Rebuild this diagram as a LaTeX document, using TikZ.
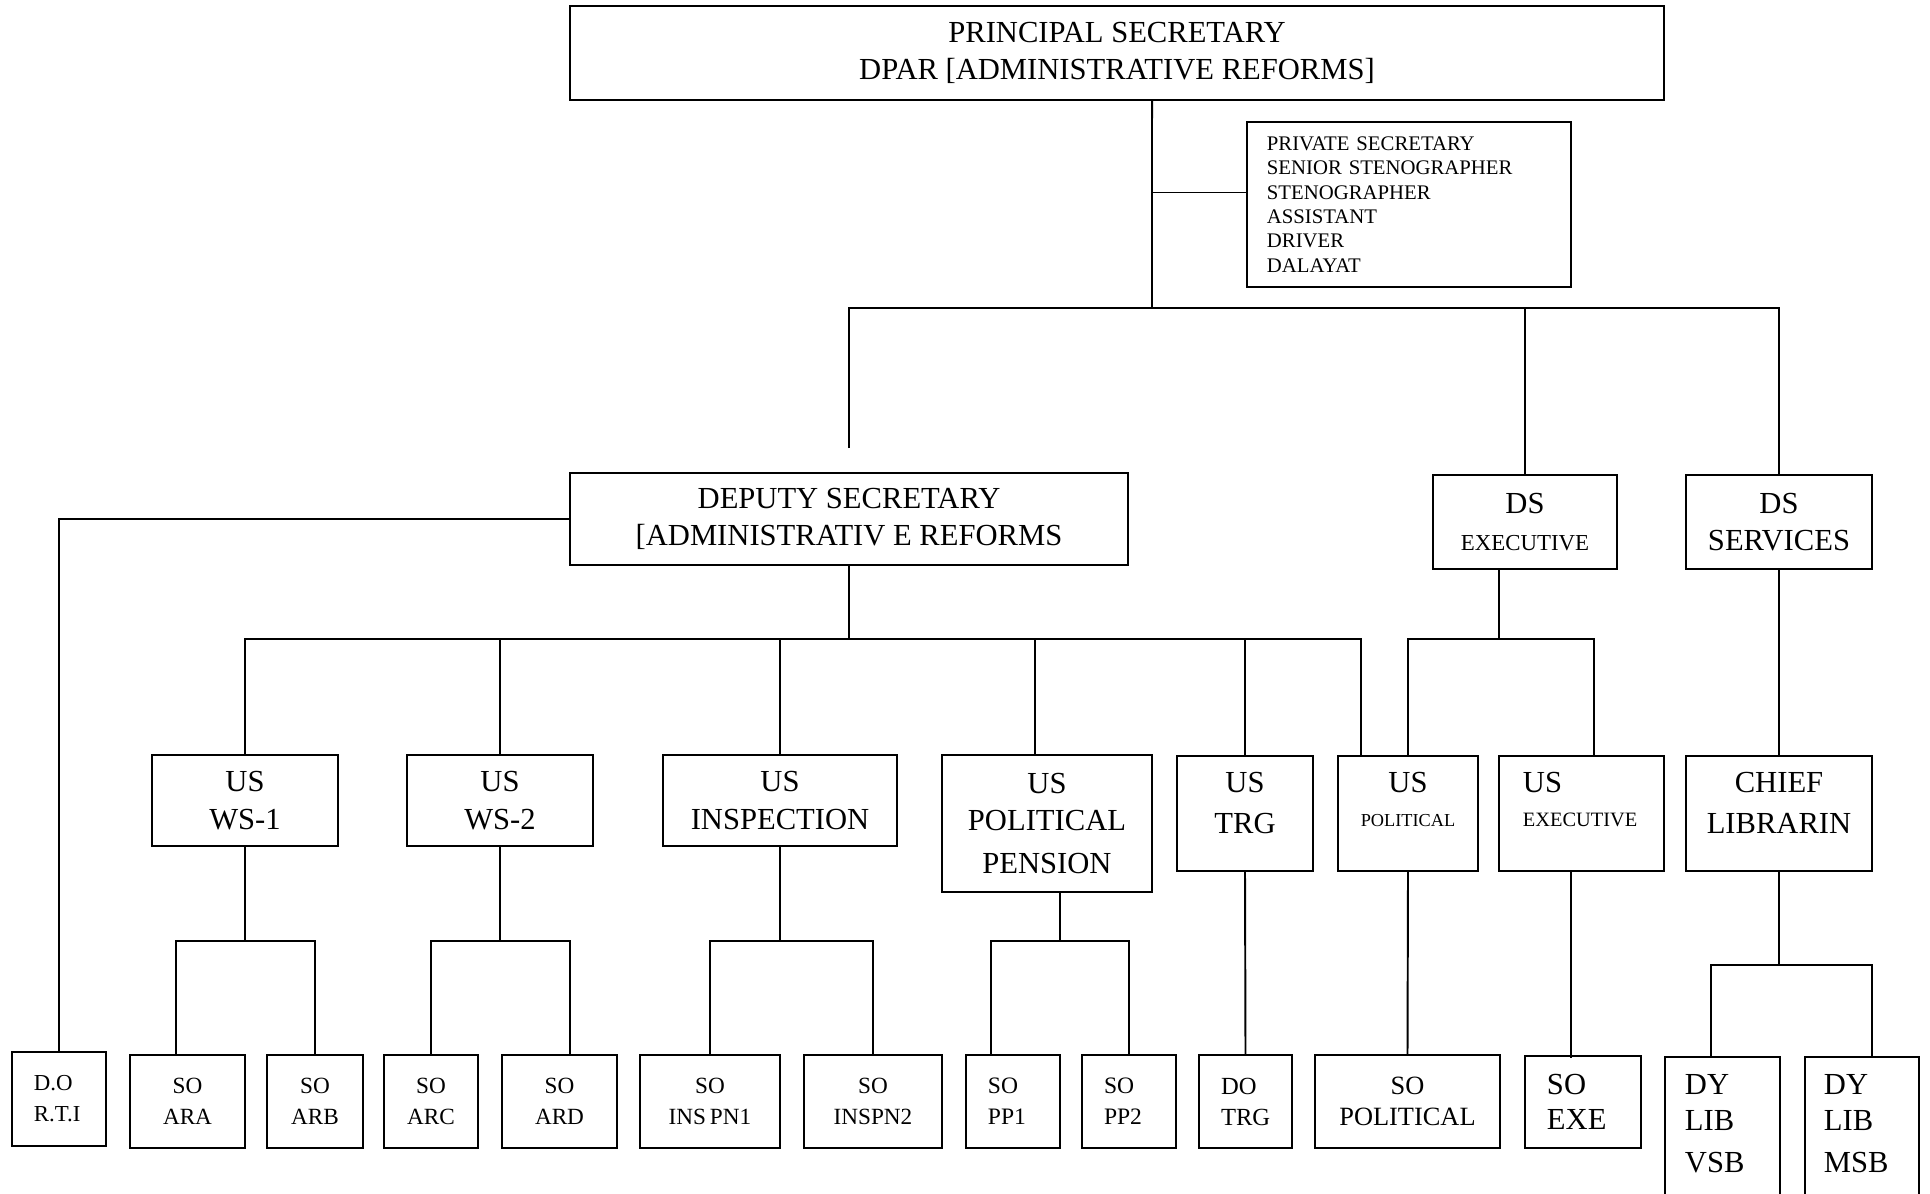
\documentclass[tikz,border=0pt]{standalone}
\usepackage{fontspec}
\setmainfont{Liberation Serif}

\begin{document}
\begin{tikzpicture}[x=0.01cm,y=-0.01cm,line width=0.55pt,
    post/.style={draw,inner sep=0pt,align=center,font=\fontsize{8.7}{10.6}\selectfont},
    tallpost/.style={post,text width=#1,text height=0.37cm,text depth=0.78cm},
    sopost/.style={draw,inner sep=0pt,align=center,minimum width=#1,minimum height=0.93cm,font=\fontsize{6.6}{8.8}\selectfont},
    leftpost/.style={draw,inner ysep=0pt,inner xsep=0.22cm,align=left,minimum height=0.93cm,font=\fontsize{6.7}{8.8}\selectfont},
    libpost/.style={draw,anchor=north,inner ysep=0pt,align=left,text height=0.38cm,text depth=1.4cm,font=\fontsize{8.7}{10}\selectfont}
  ]
  \path[use as bounding box,clip] (0,0) rectangle (1930,1194);

  % top
  \node[post,minimum width=10.94cm,minimum height=0.94cm] (ps) at (1117,53) {PRINCIPAL SECRETARY\\DPAR [ADMINISTRATIVE REFORMS]};
  \node[draw,inner xsep=0.2cm,inner ysep=0pt,text width=2.84cm,minimum height=1.65cm,align=left,font=\fontsize{5.9}{6.9}\selectfont] (staff) at (1409,204.5) {PRIVATE SECRETARY\\SENIOR STENOGRAPHER\\STENOGRAPHER\\ASSISTANT\\DRIVER\\DALAYAT};

  % deputy secretaries
  \node[post,minimum width=5.58cm,minimum height=0.92cm] (dsar) at (849,519) {DEPUTY SECRETARY\\{[}ADMINISTRATIV E REFORMS};
  \node[post,minimum width=1.84cm,minimum height=0.94cm] (dsexe) at (1525,522) {DS\\{\fontsize{6.5}{8}\selectfont EXECUTIVE}};
  \node[post,minimum width=1.86cm,minimum height=0.94cm] (dsser) at (1779,522) {DS\\SERVICES};

  % under secretaries
  \node[post,minimum width=1.86cm,minimum height=0.91cm] (ws1) at (245,800.5) {US\\WS-1};
  \node[post,minimum width=1.86cm,minimum height=0.91cm] (ws2) at (500,800.5) {US\\WS-2};
  \node[post,minimum width=2.34cm,minimum height=0.91cm] (insp) at (780,800.5) {US\\INSPECTION};
  \node[post,minimum width=2.10cm,minimum height=1.37cm] (polpen) at (1047,823.5) {US\\POLITICAL\\[0.6mm]PENSION};
  \node[tallpost=1.36cm,anchor=north] (trg) at (1245,755) {US\\[0.3mm]TRG};
  \node[tallpost=1.40cm,anchor=north] (uspol) at (1408,755) {US\\[-0.4mm]{\fontsize{5.2}{6}\selectfont POLITICAL}};
  \node[tallpost=1.17cm,anchor=north,align=left,inner xsep=0.24cm] (usexe) at (1581.5,755) {US\\[-0.4mm]{\fontsize{5.8}{7}\selectfont EXECUTIVE}};
  \node[tallpost=1.86cm,anchor=north] (chief) at (1779,755) {CHIEF\\[0.3mm]LIBRARIN};

  % section officers
  \node[leftpost,text width=0.50cm,minimum height=0.94cm,font=\fontsize{6.5}{8.8}\selectfont] (dorti) at (59,1099) {D.O\\R.T.I};
  \node[sopost=1.15cm] (ara) at (187.5,1101.5) {SO\\ARA};
  \node[sopost=0.96cm] (arb) at (315,1101.5) {SO\\ARB};
  \node[sopost=0.94cm] (arc) at (431,1101.5) {SO\\ARC};
  \node[sopost=1.15cm] (ard) at (559.5,1101.5) {SO\\ARD};
  \node[sopost=1.40cm] (inspn1) at (710,1101.5) {SO\\INS\,PN1};
  \node[sopost=1.38cm] (inspn2) at (873,1101.5) {SO\\INSPN2};
  \node[leftpost,text width=0.50cm] (pp1) at (1013,1101.5) {SO\\PP1};
  \node[leftpost,text width=0.50cm] (pp2) at (1129,1101.5) {SO\\PP2};
  \node[leftpost,text width=0.49cm,font=\fontsize{7}{8.8}\selectfont] (dotrg) at (1245.5,1101.5) {DO\\TRG};
  \node[sopost=1.85cm,font=\fontsize{7.5}{8.8}\selectfont] (sopol) at (1407.5,1101.5) {SO\\POLITICAL};
  \node[leftpost,text width=0.72cm,minimum height=0.92cm,font=\fontsize{8.7}{10}\selectfont] (soexe) at (1583,1102) {SO\\EXE};
  \node[libpost,inner xsep=0.20cm,text width=0.75cm] (vsb) at (1722.5,1056) {DY\\LIB\\[0.7mm]VSB};
  \node[libpost,inner xsep=0.19cm,text width=0.76cm] (msb) at (1862,1056) {DY\\LIB\\[0.7mm]MSB};

  % links
  \coordinate (top) at (1152,308);
  \coordinate (gap) at (849,448);
  \coordinate (mid) at (849,639);
  \coordinate (exe) at (1499,639);

  \draw ([xshift=3.5mm]ps.south) -- (top);
  \draw ([yshift=1.2mm]staff.west) -- ++(-95,0);
  \draw (gap) |- (top) -| (dsser.north);
  \draw (dsexe.north) -- (dsexe.north |- top);
  \draw (dsar.west) -| (dorti.north);
  \draw (dsar.south) -- (mid);
  \draw (ws1.north) |- (mid) -| ([xshift=-4.7mm]uspol.north);
  \foreach \n in {ws2,insp,trg}
    \draw (\n.north) -- (\n.north |- mid);
  \draw ([xshift=-1.2mm]polpen.north) -- ++(0,-116);
  \draw ([xshift=-2.6mm]dsexe.south) -- (exe);
  \draw (uspol.north) |- (exe) -| ([xshift=1.25mm]usexe.north);
  \draw (dsser.south) -- (chief.north);

  \draw (ws1.south) -- ++(0,94) coordinate (j1);
  \draw ([xshift=-1.15mm]ara.north) |- (j1) -| (arb.north);
  \draw (ws2.south) -- ++(0,94) coordinate (j2);
  \draw (arc.north) |- (j2) -| ([xshift=1.05mm]ard.north);
  \draw (insp.south) -- ++(0,94) coordinate (j3);
  \draw (inspn1.north) |- (j3) -| (inspn2.north);
  \draw ([xshift=1.3mm]polpen.south) -- ++(0,48) coordinate (j4);
  \draw ([xshift=-2.2mm]pp1.north) |- (j4) -| (pp2.north);
  \draw (trg.south) -- (dotrg.north);
  \draw (uspol.south) -- (sopol.north);
  \draw ([xshift=-1.05mm]usexe.south) -- ++(0,186);
  \draw (chief.south) -- ++(0,93) coordinate (j5);
  \draw ([xshift=-1.15mm]vsb.north) |- (j5) -| ([xshift=1mm]msb.north);
\end{tikzpicture}
\end{document}
